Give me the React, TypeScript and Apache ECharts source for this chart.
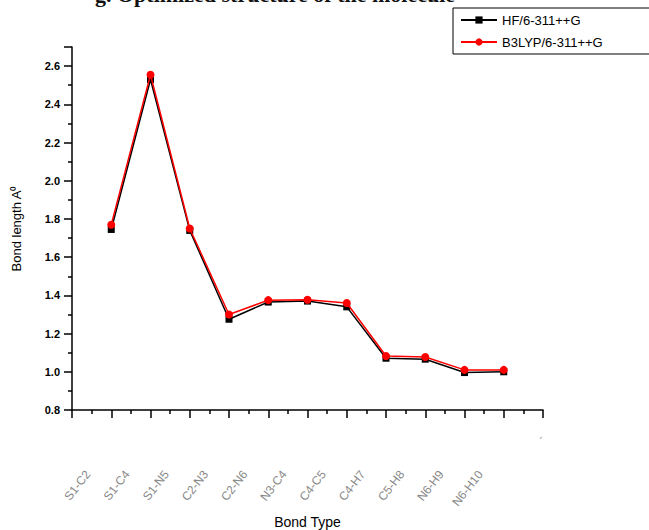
import React, { useEffect, useRef } from "react";
import * as echarts from "echarts";

const categories = ["S1-C2", "S1-C4", "S1-N5", "C2-N3", "C2-N6", "N3-C4", "C4-C5", "C4-H7", "C5-H8", "N6-H9", "N6-H10"];
const hfValues = [1.745, 2.53, 1.74, 1.275, 1.365, 1.37, 1.34, 1.071, 1.066, 0.996, 1.0];
const b3lypValues = [1.77, 2.555, 1.75, 1.3, 1.375, 1.377, 1.36, 1.083, 1.077, 1.01, 1.01];
const seriesNames = ["HF/6-311++G", "B3LYP/6-311++G"];
const yMin = 0.8;
const yMax = 2.7;
const yStep = 0.2;
const xMax = 12;

const FONT = "Liberation Sans";

export default function App() {
  const ref = useRef<HTMLDivElement>(null);
  useEffect(() => {
    if (!ref.current) return;
    const chart = echarts.init(ref.current, null, { renderer: "svg" });
    const toPairs = (vals: number[]) => vals.map((v, i) => [i + 1, v]);
    chart.setOption({
      animation: false,
      backgroundColor: "#fff",
      textStyle: { fontFamily: FONT },
      grid: { left: 72, right: 106, top: 47, bottom: 120, containLabel: false, outerBoundsMode: "none" },
      legend: {
        orient: "vertical",
        left: 453,
        top: 8,
        borderColor: "#000",
        borderWidth: 1,
        padding: [5, 6, 5, 7],
        itemGap: 8,
        itemWidth: 36,
        itemHeight: 9,
        textStyle: { fontFamily: FONT, fontSize: 13, color: "#000", width: 145, lineHeight: 14 },
        data: seriesNames,
      },
      xAxis: {
        type: "value",
        min: 0,
        max: xMax,
        interval: 1,
        name: "Bond Type",
        nameLocation: "middle",
        nameGap: 104,
        nameTextStyle: { fontFamily: FONT, fontSize: 14, color: "#000" },
        axisLine: { show: true, lineStyle: { color: "#000", width: 1.5 } },
        axisTick: { show: true, inside: false, length: 8, lineStyle: { color: "#000", width: 1.5 } },
        minorTick: { show: true, splitNumber: 2, length: 4, lineStyle: { color: "#000", width: 1.5 } },
        splitLine: { show: false },
        minorSplitLine: { show: false },
        axisLabel: {
          rotate: 52,
          margin: 32,
          color: "#888",
          fontSize: 12,
          formatter: (v: number) => {
            const c = categories[Math.round(v) - 1];
            return c ? `{a|${c}}` : "";
          },
          rich: { a: { padding: [0, 38, 0, 0], color: "#888", fontSize: 12, fontFamily: FONT } },
        },
      },
      yAxis: {
        type: "value",
        min: yMin,
        max: yMax,
        interval: yStep,
        name: "Bond length A\u2070",
        nameLocation: "middle",
        nameGap: 49,
        nameTextStyle: { fontFamily: FONT, fontSize: 13, color: "#000" },
        axisLine: { show: true, lineStyle: { color: "#000", width: 1.5 } },
        axisTick: { show: true, inside: false, length: 8, lineStyle: { color: "#000", width: 1.5 } },
        minorTick: { show: true, splitNumber: 2, length: 4, lineStyle: { color: "#000", width: 1.5 } },
        splitLine: { show: false },
        minorSplitLine: { show: false },
        axisLabel: {
          margin: 12,
          color: "#000",
          fontSize: 11,
          fontWeight: "bold",
          showMaxLabel: false,
          formatter: (v: number) => (Math.abs(v - yMax) < 1e-6 ? "" : v.toFixed(1)),
        },
      },
      series: [
        {
          name: seriesNames[0],
          type: "line",
          data: toPairs(hfValues),
          symbol: "rect",
          symbolSize: 7,
          lineStyle: { color: "#000", width: 1.5 },
          itemStyle: { color: "#000" },
          z: 2,
        },
        {
          name: seriesNames[1],
          type: "line",
          data: toPairs(b3lypValues),
          symbol: "circle",
          symbolSize: 8,
          lineStyle: { color: "#f00", width: 1.5 },
          itemStyle: { color: "#f00" },
          z: 3,
        },
      ],
      graphic: [
        {
          type: "text",
          left: 95,
          top: -17,
          style: {
            text: "g. Optimized structure of the molecule",
            font: "bold 22px 'Liberation Serif'",
            fill: "#111",
          },
        },
        {
          type: "text",
          x: 540,
          y: 437,
          rotation: 0.9,
          style: { text: "-", fontSize: 11, fill: "#999", fontFamily: FONT, align: "center", verticalAlign: "middle" },
        },
      ],
    });
    return () => chart.dispose();
  }, []);
  return (
    <div
      ref={ref}
      style={{ position: "fixed", left: 0, top: 0, width: 649, height: 530, background: "#fff" }}
    />
  );
}
